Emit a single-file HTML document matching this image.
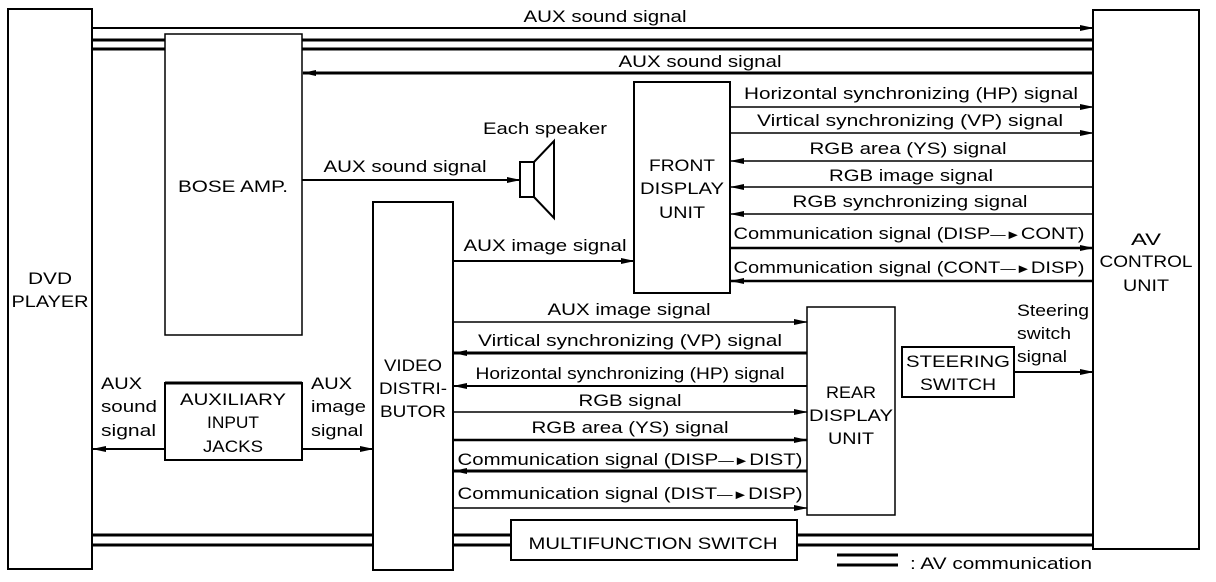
<!DOCTYPE html>
<html><head><meta charset="utf-8"><style>
html,body{margin:0;padding:0;background:#fff;}
svg{display:block;}
text{font-family:"Liberation Sans",Arial,sans-serif;font-size:17px;fill:#000;}
</style></head><body>
<svg width="1216" height="582" viewBox="0 0 1216 582" xmlns="http://www.w3.org/2000/svg">
<defs>
<marker id="a" markerWidth="14" markerHeight="8" refX="13" refY="4" orient="auto" markerUnits="userSpaceOnUse">
<path d="M0,1 L14,4 L0,7 Z" fill="#000"/></marker>
</defs>
<g fill="none" stroke="#000" stroke-width="2">
<rect x="8" y="9" width="84" height="560"/>
<rect x="1093" y="10" width="106" height="539"/>
<rect x="165" y="34" width="137" height="301" stroke-width="1.5"/>
<rect x="634" y="82" width="96" height="211"/>
<rect x="373" y="202" width="80" height="368"/>
<rect x="165" y="383" width="137" height="77"/>
<rect x="807" y="307" width="88" height="208" stroke-width="1.5"/>
<rect x="902" y="347" width="112" height="50"/>
<rect x="511" y="520" width="286" height="40"/>
<line x1="165" y1="383" x2="302" y2="383" stroke-width="3"/>
<rect x="520" y="162" width="14" height="35"/>
<polyline points="534,162 554,141 554,218 534,197"/>
</g>
<g stroke="#000" fill="none">
<line x1="92" y1="28" x2="1093" y2="28" stroke-width="2" marker-end="url(#a)"/>
<line x1="92" y1="40" x2="165" y2="40" stroke-width="3"/>
<line x1="92" y1="49" x2="165" y2="49" stroke-width="3"/>
<line x1="302" y1="40" x2="1093" y2="40" stroke-width="3"/>
<line x1="302" y1="49" x2="1093" y2="49" stroke-width="3"/>
<line x1="1093" y1="73" x2="303" y2="73" stroke-width="3" marker-end="url(#a)"/>
<line x1="302" y1="180" x2="520" y2="180" stroke-width="2" marker-end="url(#a)"/>
<line x1="453" y1="261" x2="634" y2="261" stroke-width="2" marker-end="url(#a)"/>
<line x1="730" y1="107" x2="1093" y2="107" stroke-width="1.5" marker-end="url(#a)"/>
<line x1="730" y1="133" x2="1093" y2="133" stroke-width="1.5" marker-end="url(#a)"/>
<line x1="1093" y1="161" x2="731" y2="161" stroke-width="1.5" marker-end="url(#a)"/>
<line x1="1093" y1="187" x2="731" y2="187" stroke-width="1.5" marker-end="url(#a)"/>
<line x1="1093" y1="214" x2="731" y2="214" stroke-width="1.5" marker-end="url(#a)"/>
<line x1="730" y1="248" x2="1093" y2="248" stroke-width="2.5" marker-end="url(#a)"/>
<line x1="1093" y1="281" x2="731" y2="281" stroke-width="2.5" marker-end="url(#a)"/>
<line x1="453" y1="322" x2="807" y2="322" stroke-width="1.5" marker-end="url(#a)"/>
<line x1="807" y1="353" x2="454" y2="353" stroke-width="3" marker-end="url(#a)"/>
<line x1="807" y1="386" x2="454" y2="386" stroke-width="2" marker-end="url(#a)"/>
<line x1="453" y1="412" x2="807" y2="412" stroke-width="1.5" marker-end="url(#a)"/>
<line x1="453" y1="440" x2="807" y2="440" stroke-width="2.5" marker-end="url(#a)"/>
<line x1="807" y1="471" x2="454" y2="471" stroke-width="3" marker-end="url(#a)"/>
<line x1="453" y1="508" x2="807" y2="508" stroke-width="1.5" marker-end="url(#a)"/>
<line x1="165" y1="449" x2="93" y2="449" stroke-width="2" marker-end="url(#a)"/>
<line x1="302" y1="449" x2="373" y2="449" stroke-width="2" marker-end="url(#a)"/>
<line x1="1014" y1="372" x2="1093" y2="372" stroke-width="2" marker-end="url(#a)"/>
<line x1="92" y1="535" x2="373" y2="535" stroke-width="3"/>
<line x1="92" y1="545" x2="373" y2="545" stroke-width="3"/>
<line x1="453" y1="535" x2="511" y2="535" stroke-width="3"/>
<line x1="453" y1="545" x2="511" y2="545" stroke-width="3"/>
<line x1="797" y1="535" x2="1093" y2="535" stroke-width="3"/>
<line x1="797" y1="545" x2="1093" y2="545" stroke-width="3"/>
<line x1="837" y1="555" x2="898" y2="555" stroke-width="3"/>
<line x1="837" y1="565" x2="898" y2="565" stroke-width="3"/>
</g>
<g text-anchor="middle" lengthAdjust="spacingAndGlyphs">
<text x="605" y="22" textLength="163" lengthAdjust="spacingAndGlyphs">AUX sound signal</text>
<text x="700" y="67" textLength="163" lengthAdjust="spacingAndGlyphs">AUX sound signal</text>
<text x="545" y="134" textLength="124" lengthAdjust="spacingAndGlyphs">Each speaker</text>
<text x="405" y="172" textLength="163" lengthAdjust="spacingAndGlyphs">AUX sound signal</text>
<text x="545" y="251" textLength="163" lengthAdjust="spacingAndGlyphs">AUX image signal</text>
<text x="233" y="192" textLength="110" lengthAdjust="spacingAndGlyphs">BOSE AMP.</text>
<text x="50" y="284" textLength="44" lengthAdjust="spacingAndGlyphs">DVD</text>
<text x="50" y="307" textLength="77" lengthAdjust="spacingAndGlyphs">PLAYER</text>
<text x="682" y="171" textLength="66" lengthAdjust="spacingAndGlyphs">FRONT</text>
<text x="682" y="194" textLength="84" lengthAdjust="spacingAndGlyphs">DISPLAY</text>
<text x="682" y="218" textLength="46" lengthAdjust="spacingAndGlyphs">UNIT</text>
<text x="1146" y="245" textLength="30" lengthAdjust="spacingAndGlyphs">AV</text>
<text x="1146" y="267" textLength="93" lengthAdjust="spacingAndGlyphs">CONTROL</text>
<text x="1146" y="291" textLength="46" lengthAdjust="spacingAndGlyphs">UNIT</text>
<text x="911" y="99" textLength="334" lengthAdjust="spacingAndGlyphs">Horizontal synchronizing (HP) signal</text>
<text x="910" y="126" textLength="306" lengthAdjust="spacingAndGlyphs">Virtical synchronizing (VP) signal</text>
<text x="908" y="154" textLength="197" lengthAdjust="spacingAndGlyphs">RGB area (YS) signal</text>
<text x="911" y="181" textLength="164" lengthAdjust="spacingAndGlyphs">RGB image signal</text>
<text x="910" y="207" textLength="235" lengthAdjust="spacingAndGlyphs">RGB synchronizing signal</text>
<text x="909" y="239" textLength="351" lengthAdjust="spacingAndGlyphs">Communication signal (DISP<tspan font-size="13">—►</tspan>CONT)</text>
<text x="909" y="273" textLength="351" lengthAdjust="spacingAndGlyphs">Communication signal (CONT<tspan font-size="13">—►</tspan>DISP)</text>
<text x="629" y="315" textLength="163" lengthAdjust="spacingAndGlyphs">AUX image signal</text>
<text x="630" y="346" textLength="304" lengthAdjust="spacingAndGlyphs">Virtical synchronizing (VP) signal</text>
<text x="630" y="379" textLength="309" lengthAdjust="spacingAndGlyphs">Horizontal synchronizing (HP) signal</text>
<text x="630" y="406" textLength="103" lengthAdjust="spacingAndGlyphs">RGB signal</text>
<text x="630" y="433" textLength="197" lengthAdjust="spacingAndGlyphs">RGB area (YS) signal</text>
<text x="630" y="465" textLength="345" lengthAdjust="spacingAndGlyphs">Communication signal (DISP<tspan font-size="13">—►</tspan>DIST)</text>
<text x="630" y="499" textLength="345" lengthAdjust="spacingAndGlyphs">Communication signal (DIST<tspan font-size="13">—►</tspan>DISP)</text>
<text x="413" y="371" textLength="58" lengthAdjust="spacingAndGlyphs">VIDEO</text>
<text x="413" y="394" textLength="68" lengthAdjust="spacingAndGlyphs">DISTRI-</text>
<text x="413" y="417" textLength="66" lengthAdjust="spacingAndGlyphs">BUTOR</text>
<text x="233" y="405" textLength="106" lengthAdjust="spacingAndGlyphs">AUXILIARY</text>
<text x="233" y="428" textLength="52" lengthAdjust="spacingAndGlyphs">INPUT</text>
<text x="233" y="452" textLength="60" lengthAdjust="spacingAndGlyphs">JACKS</text>
<text x="851" y="398" textLength="50" lengthAdjust="spacingAndGlyphs">REAR</text>
<text x="851" y="421" textLength="84" lengthAdjust="spacingAndGlyphs">DISPLAY</text>
<text x="851" y="444" textLength="46" lengthAdjust="spacingAndGlyphs">UNIT</text>
<text x="958" y="367" textLength="104" lengthAdjust="spacingAndGlyphs">STEERING</text>
<text x="958" y="390" textLength="76" lengthAdjust="spacingAndGlyphs">SWITCH</text>
<text x="653" y="549" textLength="249" lengthAdjust="spacingAndGlyphs">MULTIFUNCTION SWITCH</text>
</g>
<text x="101" y="389" textLength="41" lengthAdjust="spacingAndGlyphs">AUX</text>
<text x="101" y="412" textLength="56" lengthAdjust="spacingAndGlyphs">sound</text>
<text x="101" y="436" textLength="55" lengthAdjust="spacingAndGlyphs">signal</text>
<text x="311" y="389" textLength="41" lengthAdjust="spacingAndGlyphs">AUX</text>
<text x="311" y="412" textLength="55" lengthAdjust="spacingAndGlyphs">image</text>
<text x="311" y="436" textLength="52" lengthAdjust="spacingAndGlyphs">signal</text>
<text x="1017" y="316" textLength="72" lengthAdjust="spacingAndGlyphs">Steering</text>
<text x="1017" y="339" textLength="54" lengthAdjust="spacingAndGlyphs">switch</text>
<text x="1017" y="362" textLength="50" lengthAdjust="spacingAndGlyphs">signal</text>
<text x="910" y="569" textLength="182" lengthAdjust="spacingAndGlyphs">: AV communication</text>
</svg>
</body></html>
